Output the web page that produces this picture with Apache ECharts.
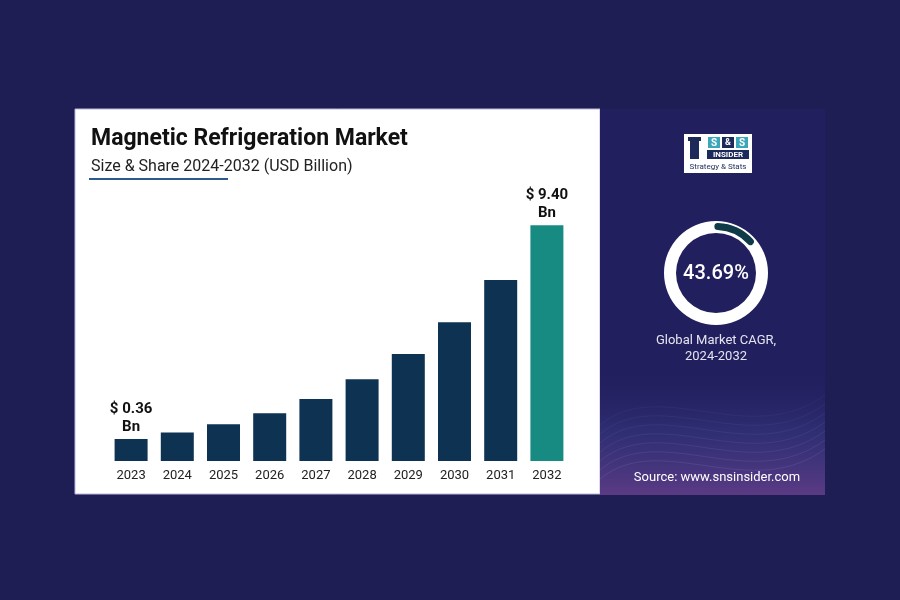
<!DOCTYPE html>
<html>
<head>
<meta charset="utf-8">
<script src="https://cdn.jsdelivr.net/npm/echarts@6/dist/echarts.min.js"></script>
<style>
  html, body { margin: 0; padding: 0; background: #1f1e54; }
  #chart { width: 900px; height: 600px; }
</style>
</head>
<body>
<div id="chart"></div>
<script>
// market size, USD billion
const years = ['2023', '2024', '2025', '2026', '2027', '2028', '2029', '2030', '2031', '2032'];
const marketSize = [0.36, 0.63, 0.98, 1.45, 2.05, 2.89, 3.95, 5.30, 7.08, 9.40];
const labelled = { 0: '$ 0.36\nBn', 9: '$ 9.40\nBn' };
const cagr = '43.69%';
const ringArc = [15, 85]; // decorative progress arc on the ring

const navy = '#0e3352';
const teal = '#178a82';

const chart = echarts.init(document.getElementById('chart'));

const barData = marketSize.map(function (v, i) {
  const item = {
    value: v,
    itemStyle: { color: i === years.length - 1 ? teal : navy }
  };
  if (labelled[i]) {
    item.label = {
      show: true,
      position: 'top',
      distance: 3,
      formatter: labelled[i],
      fontFamily: 'Roboto',
      fontSize: 15,
      fontWeight: 'bold',
      lineHeight: 18,
      color: '#111'
    };
  }
  return item;
});

// wavy lines for the bottom of the side panel
const waves = [];
for (let k = 0; k < 7; k++) {
  const y0 = 405 + k * 9;
  waves.push({
    type: 'bezierCurve',
    z: -8,
    silent: true,
    shape: { x1: 600, y1: y0 + 20, x2: 825, y2: y0 - 10, cpx1: 660, cpy1: y0 - 30, cpx2: 750, cpy2: y0 + 45 },
    style: { stroke: 'rgba(170,150,230,' + (0.06 + k * 0.015) + ')', lineWidth: 1, fill: null }
  });
}

chart.setOption({
  backgroundColor: '#1f1e54',
  animation: false,
  title: {
    text: 'Magnetic Refrigeration Market',
    subtext: 'Size & Share 2024-2032 (USD Billion)',
    left: 86,
    top: 123,
    itemGap: 8,
    textStyle: { fontFamily: 'Roboto', fontSize: 23, fontWeight: 'bold', color: '#111' },
    subtextStyle: { fontFamily: 'Roboto', fontSize: 16, color: '#222' }
  },
  grid: { left: 108, right: 330, top: 211, bottom: 139 },
  xAxis: {
    type: 'category',
    data: years,
    axisLine: { show: false },
    axisTick: { show: false },
    axisLabel: { fontFamily: 'Roboto', fontSize: 13, color: '#222', margin: 8 }
  },
  yAxis: {
    type: 'value',
    min: -0.57,
    max: 10,
    startValue: -0.57,
    show: false,
    splitLine: { show: false }
  },
  series: [
    {
      type: 'bar',
      data: barData,
      barWidth: 33,
      z: 3
    },
    {
      type: 'pie',
      silent: true,
      center: [716, 273],
      radius: [40, 52],
      label: { show: false },
      labelLine: { show: false },
      data: [{ value: 1, itemStyle: { color: '#ffffff' } }]
    },
    {
      type: 'pie',
      silent: true,
      center: [716, 273],
      radius: [43, 50],
      startAngle: 92,
      clockwise: true,
      z: 3,
      label: { show: false },
      labelLine: { show: false },
      data: [
        { value: ringArc[0], itemStyle: { color: '#0f3b48', borderRadius: 4 } },
        { value: ringArc[1], itemStyle: { color: 'rgba(0,0,0,0)' } }
      ]
    }
  ],
  graphic: [
    // white card
    { type: 'rect', z: -10, silent: true, shape: { x: 75, y: 109, width: 525, height: 385 },
      style: { fill: '#ffffff', stroke: '#b9b6dc', lineWidth: 1 } },
    // side panel
    { type: 'rect', z: -10, silent: true, shape: { x: 600, y: 109, width: 225, height: 386 },
      style: { fill: '#221f5e' } },
    { type: 'rect', z: -9, silent: true, shape: { x: 600, y: 365, width: 225, height: 130 },
      style: {
        fill: new echarts.graphic.LinearGradient(0, 0, 0, 1, [
          { offset: 0, color: 'rgba(34,31,94,0)' },
          { offset: 0.5, color: 'rgba(62,64,140,0.45)' },
          { offset: 1, color: 'rgba(110,68,145,0.75)' }
        ])
      } },
    ...waves,
    // underline below subtitle
    { type: 'line', silent: true, shape: { x1: 89, y1: 179, x2: 228, y2: 179 },
      style: { stroke: '#2b5b8c', lineWidth: 2 } },
    // logo
    { type: 'rect', silent: true, shape: { x: 684, y: 134, width: 68, height: 39 }, style: { fill: '#ffffff' } },
    { type: 'rect', silent: true, shape: { x: 690, y: 140, width: 9, height: 19 }, style: { fill: '#1c2a5a' } },
    { type: 'rect', silent: true, shape: { x: 688, y: 137, width: 13, height: 4 }, style: { fill: '#1c2a5a' } },
    { type: 'rect', silent: true, shape: { x: 708, y: 137, width: 12, height: 11 }, style: { fill: '#3ba7b8' } },
    { type: 'rect', silent: true, shape: { x: 722, y: 137, width: 12, height: 11 }, style: { fill: '#1c2a5a' } },
    { type: 'rect', silent: true, shape: { x: 736, y: 137, width: 12, height: 11 }, style: { fill: '#3ba7b8' } },
    { type: 'text', silent: true, style: { text: 'S', x: 714, y: 143, align: 'center', verticalAlign: 'middle',
      fill: '#fff', font: 'bold 10px Roboto' } },
    { type: 'text', silent: true, style: { text: '&', x: 728, y: 143, align: 'center', verticalAlign: 'middle',
      fill: '#fff', font: 'bold 9px Roboto' } },
    { type: 'text', silent: true, style: { text: 'S', x: 742, y: 143, align: 'center', verticalAlign: 'middle',
      fill: '#fff', font: 'bold 10px Roboto' } },
    { type: 'rect', silent: true, shape: { x: 707, y: 150, width: 42, height: 9 }, style: { fill: '#1c2a5a' } },
    { type: 'text', silent: true, style: { text: 'INSIDER', x: 728, y: 155, align: 'center', verticalAlign: 'middle',
      fill: '#fff', font: 'bold 8px Roboto' } },
    { type: 'text', silent: true, style: { text: 'Strategy & Stats', x: 718, y: 167, align: 'center', verticalAlign: 'middle',
      fill: '#1c2a5a', font: '8px Roboto' } },
    // donut centre and captions
    { type: 'text', silent: true, z: 10, style: { text: cagr, x: 716, y: 274, align: 'center', verticalAlign: 'middle',
      fill: '#ffffff', font: '500 20px Roboto' } },
    { type: 'text', silent: true, style: { text: 'Global Market CAGR,\n2024-2032', x: 716, y: 349, align: 'center',
      verticalAlign: 'middle', fill: '#e4e4f0', font: '13px Roboto', lineHeight: 16 } },
    { type: 'text', silent: true, z: 10, style: { text: 'Source: www.snsinsider.com', x: 717, y: 478, align: 'center',
      verticalAlign: 'middle', fill: '#ffffff', font: '13px Roboto' } }
  ]
});
</script>
</body>
</html>
